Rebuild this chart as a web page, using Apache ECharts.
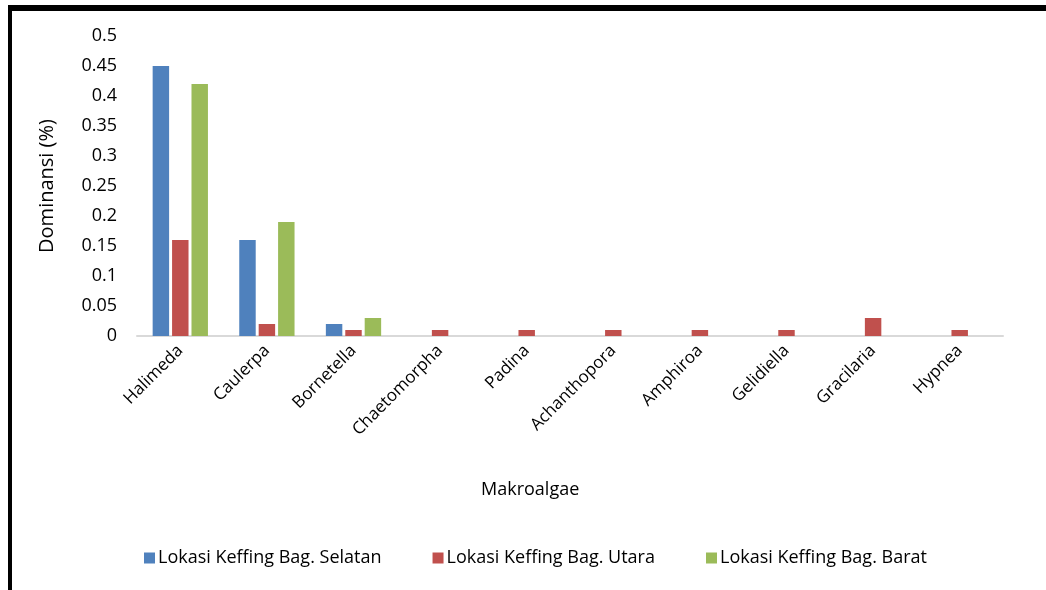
<!DOCTYPE html>
<html>
<head>
<meta charset="utf-8">
<style>
  html, body { margin: 0; padding: 0; background: #fff; }
  #frame {
    position: absolute; left: 8px; top: 5px; width: 1100px; height: 700px;
    border-left: 4px solid #000; border-top: 6px solid #000; box-sizing: border-box;
  }
  #chart { position: absolute; left: 0; top: 0; width: 1046px; height: 590px; }
</style>
<script src="https://cdn.jsdelivr.net/npm/echarts@6/dist/echarts.min.js"></script>
</head>
<body>
<div id="frame"></div>
<div id="chart"></div>
<script>
// Dominansi makroalgae per lokasi
const categories = ['Halimeda', 'Caulerpa', 'Bornetella', 'Chaetomorpha', 'Padina',
  'Achanthopora', 'Amphiroa', 'Gelidiella', 'Gracilaria', 'Hypnea'];
const selatan = [0.45, 0.16, 0.02, 0, 0, 0, 0, 0, 0, 0];
const utara   = [0.16, 0.02, 0.01, 0.01, 0.01, 0.01, 0.01, 0.01, 0.03, 0.01];
const barat   = [0.42, 0.19, 0.03, 0, 0, 0, 0, 0, 0, 0];
const seriesNames = ['Lokasi Keffing Bag. Selatan', 'Lokasi Keffing Bag. Utara', 'Lokasi Keffing Bag. Barat'];
const colors = ['#4F81BD', '#C0504D', '#9BBB59'];

const font = "'Open Sans', 'Noto Sans', sans-serif";
const chart = echarts.init(document.getElementById('chart'), null, { renderer: 'canvas' });

function bar(name, data, color) {
  return {
    name, type: 'bar', data,
    barWidth: '19%', barGap: '18%',
    itemStyle: { color }
  };
}

chart.setOption({
  animation: false,
  textStyle: { fontFamily: font },
  grid: { left: 137, right: 43, top: 36, bottom: 254 },
  legend: {
    left: 139, top: 544,
    itemWidth: 11, itemHeight: 11, itemGap: 51,
    icon: 'rect',
    textStyle: { fontSize: 18, color: '#000', fontFamily: font, padding: [0, 0, 0, -2] },
    data: seriesNames
  },
  graphic: [{
    type: 'text', left: 481, top: 481,
    style: { text: 'Makroalgae', fontSize: 18, fill: '#000', fontFamily: font }
  }],
  xAxis: {
    type: 'category', data: categories,
    axisLine: { lineStyle: { color: '#D9D9D9', width: 2 } },
    axisTick: { show: false },
    axisLabel: { rotate: 45, fontSize: 17, color: '#000', margin: 12, interval: 0, fontFamily: font }
  },
  yAxis: {
    type: 'value', min: 0, max: 0.5, interval: 0.05,
    name: 'Dominansi (%)', nameLocation: 'middle', nameGap: 80, nameRotate: 90,
    nameTextStyle: { fontSize: 20, color: '#000', fontFamily: font },
    splitLine: { show: false },
    axisLine: { show: false }, axisTick: { show: false },
    axisLabel: { fontSize: 18, color: '#000', margin: 20, fontFamily: font,
      formatter: v => String(+v.toFixed(2)) }
  },
  series: [bar(seriesNames[0], selatan, colors[0]), bar(seriesNames[1], utara, colors[1]), bar(seriesNames[2], barat, colors[2])]
});
</script>
</body>
</html>
